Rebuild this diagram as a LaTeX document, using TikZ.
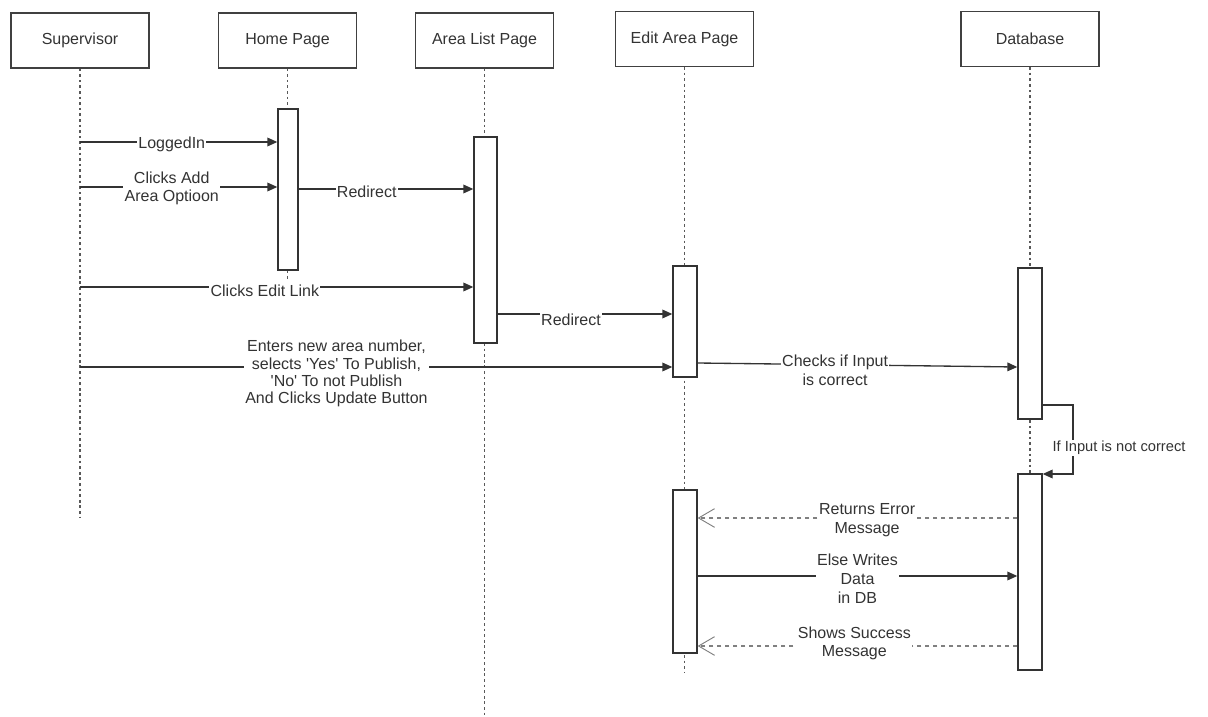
\documentclass[tikz,border=0pt]{standalone}
\usepackage{fontspec}
\setmainfont{Liberation Sans}
\usetikzlibrary{arrows.meta,fit}
\begin{document}
\begin{tikzpicture}[x=0.75pt,y=-0.75pt,
  head/.style={draw=black!75, line width=1.2pt, fill=white, minimum width=103.5pt,
    minimum height=41pt, inner sep=0pt, font=\fontsize{12}{14}\selectfont, text=black!80},
  life/.style={draw=black!65, line width=1.1pt, dash pattern=on 2pt off 2.2pt},
  act/.style={draw=black!80, line width=1pt, fill=white, inner sep=0pt},
  msg/.style={draw=black!80, line width=1pt, -{Triangle[length=7.5pt,width=6.5pt]}},
  ret/.style={draw=black!50, line width=1pt, dash pattern=on 3pt off 3pt,
    -{Straight Barb[length=12pt,width=14pt,line width=0.7pt]}},
  lbl/.style={fill=white, inner sep=1pt, align=center,
    font=\fontsize{12}{14}\selectfont, text=black!80},
]
\useasboundingbox (0,0) rectangle (1208,717);

% participants
\node[head] (sup)   at (80,40.5)    {Supervisor};
\node[head] (home)  at (287.5,40.5) {Home Page};
\node[head] (alist) at (484.5,40.5) {Area List Page};
\node[head] (edit)  at (684.5,39)   {Edit Area Page};
\node[head] (db)    at (1030,39)    {Database};

% lifelines
\draw[life] (sup.south)   -- (sup.south |- 0,517);
\draw[life] (home.south)  -- (home.south |- 0,281);
\draw[life] (alist.south) -- (alist.south |- 0,717);
\draw[life] (edit.south)  -- (edit.south |- 0,673);
\draw[life] (db.south)    -- (db.south |- 0,670);

% activation bars
\node[act, fit={(278,109)(298,270)}]   (hA)  {};
\node[act, fit={(474,137)(497,343)}]   (aA)  {};
\node[act, fit={(673,266)(697,377)}]   (eA1) {};
\node[act, fit={(673,490)(697,653)}]   (eA2) {};
\node[act, fit={(1018,268)(1042,419)}] (dA1) {};
\node[act, fit={(1018,474)(1042,670)}] (dA2) {};

% messages
\draw[msg] (sup.south |- 0,142) -- node[lbl, pos=0.465, yshift=-2pt] {LoggedIn} (hA.west |- 0,142);
\draw[msg] (sup.south |- 0,187) -- node[lbl, pos=0.465, yshift=-1pt] {Clicks Add\\Area Optioon} (hA.west |- 0,187);
\draw[msg] (hA.east |- 0,189) -- node[lbl, pos=0.39, yshift=-2pt] {Redirect} (aA.west |- 0,189);
\draw[msg] (sup.south |- 0,287) -- node[lbl, pos=0.47, yshift=-3pt] {Clicks Edit Link} (aA.west |- 0,287);
\draw[msg] (aA.east |- 0,314) -- node[lbl, pos=0.42, yshift=-4.5pt] {Redirect} (eA1.west |- 0,314);
\draw[msg] (sup.south |- 0,367) -- node[lbl, pos=0.433, yshift=-5pt,
    font=\fontsize{12}{13}\selectfont]
  {Enters new area number,\\selects \textquotesingle Yes\textquotesingle{} To Publish,\\
   \textquotesingle No\textquotesingle{} To not Publish\\And Clicks Update Button} (eA1.west |- 0,367);
\draw[msg] (eA1.east |- 0,363) -- node[lbl, pos=0.43, yshift=-4pt] {Checks if Input\\is correct} (dA1.west |- 0,367);

% self call on the database
\coordinate (loop) at (1073,440);
\draw[msg] (dA1.east |- 0,405) -| (loop) |- (dA2.east |- 0,474);
\node[lbl, font=\fontsize{11}{13}\selectfont] (nc) at (1119,448) {If Input is not correct};

% replies and write
\draw[ret] (dA2.west |- 0,518) -- node[lbl, pos=0.47, yshift=-1.5pt] {Returns Error\\Message} (eA2.east |- 0,518);
\draw[msg] (eA2.east |- 0,576) -- node[lbl, pos=0.5, yshift=-2pt] {Else Writes\\Data\\in DB} (dA2.west |- 0,576);
\draw[ret] (dA2.west |- 0,646) -- node[lbl, pos=0.51, yshift=2pt] {Shows Success\\Message} (eA2.east |- 0,646);
\end{tikzpicture}
\end{document}
